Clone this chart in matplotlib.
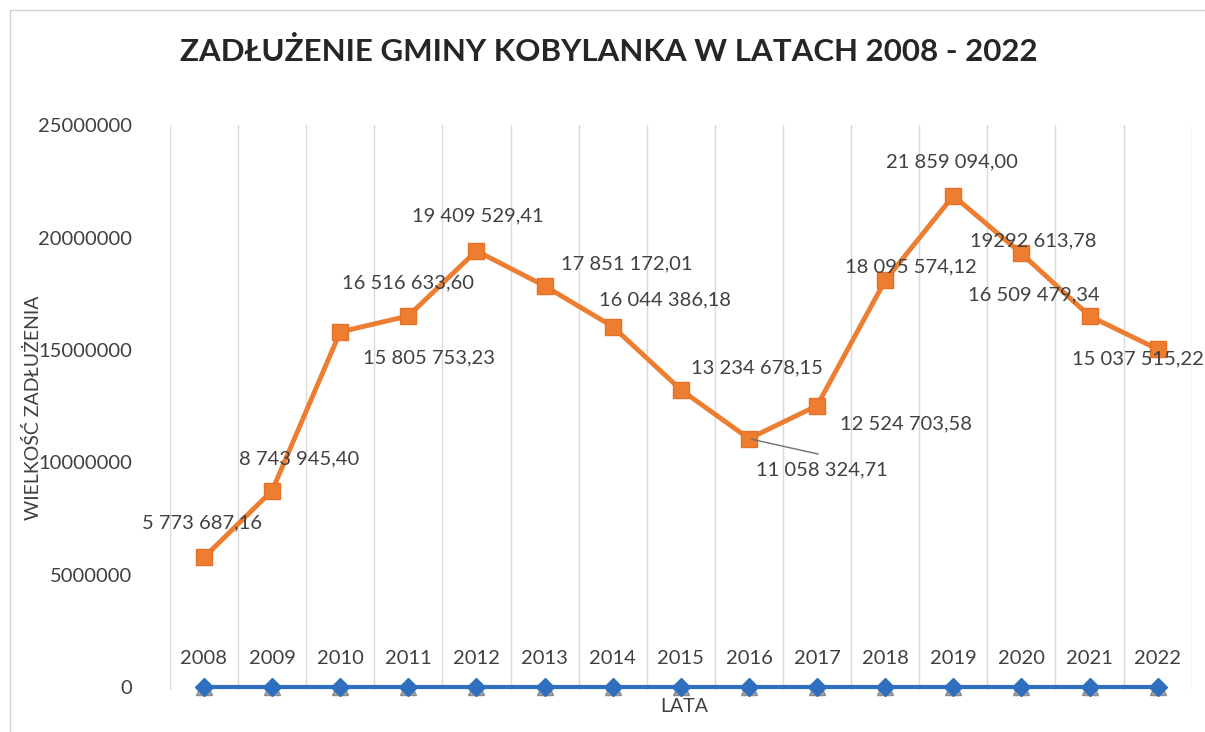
import numpy as np
import matplotlib
matplotlib.use("Agg")
from matplotlib import pyplot as plt
from matplotlib.patches import Rectangle

plt.rcParams['font.family'] = ['Lato', 'DejaVu Sans']

# data
years = ["2008", "2009", "2010", "2011", "2012", "2013", "2014", "2015",
         "2016", "2017", "2018", "2019", "2020", "2021", "2022"]
debt = [5773687.16, 8743945.40, 15805753.23, 16516633.60, 19409529.41,
        17851172.01, 16044386.18, 13234678.15, 11058324.71, 12524703.58,
        18095574.12, 21859094.00, 19292613.78, 16509479.34, 15037515.22]
debt_labels = ["5 773 687,16", "8 743 945,40", "15 805 753,23", "16 516 633,60",
               "19 409 529,41", "17 851 172,01", "16 044 386,18", "13 234 678,15",
               "11 058 324,71", "12 524 703,58", "18 095 574,12", "21 859 094,00",
               "19292 613,78", "16 509 479,34", "15 037 515,22"]
# the years themselves were plotted as a series too (lie at ~0 on this scale)
year_series = [2008, 2009, 2010, 2011, 2012, 2013, 2014, 2015,
               2016, 2017, 2018, 2019, 2020, 2021, 2022]
zero_series = [0] * 15

# label offsets in pixels (dx, dy)
offsets = [(-2, 35), (27, 32), (89, -26), (0, 33), (1, 35), (82, 22), (52, 27),
           (76, 22), (73, -31), (89, -18), (26, 14), (-1, 34), (12, 13),
           (-56, 21), (-20, -10)]

txt = "#404040"
x = np.arange(len(years))

fig = plt.figure(figsize=(12.05, 7.32), dpi=100)
ax = fig.add_axes([0.141, 0.057, 0.848, 0.772])

# chart border
fig.patches.append(Rectangle((0.008, -0.05), 1.1, 1.036, transform=fig.transFigure,
                             fill=False, edgecolor="#d0d0d0", linewidth=1.0))

# grey triangles peek out just under the blue diamonds
ax.plot(x, zero_series, marker="^", color="#a5a5a5", linewidth=0, markersize=12,
        markeredgecolor="#8c8c8c", zorder=3, clip_on=False)
ax.plot(x, year_series, marker="D", color="#2e6fc0", linewidth=3, markersize=9,
        zorder=4, clip_on=False)
ax.plot(x, debt, marker="s", color="#ed7d31", linewidth=3.5, markersize=11,
        markeredgecolor="#e87025", zorder=5)

for i in range(len(x)):
    dx, dy = offsets[i]
    ax.annotate(debt_labels[i], (x[i], debt[i]), xytext=(dx, dy),
                textcoords="offset pixels", ha="center", va="center",
                fontsize=14.5, color=txt, zorder=6)

# leader line for 2016 label
ax.annotate("", (x[8], debt[8]), xytext=(72, -16), textcoords="offset pixels",
            arrowprops=dict(arrowstyle="-", color="#707070", lw=1), zorder=6)

# category labels sit above the zero line
for i in range(len(x)):
    ax.text(x[i], 0.057, years[i], transform=ax.get_xaxis_transform(),
            ha="center", va="center", fontsize=14.5, color=txt)

ax.set_xlim(-0.5, 14.5)
ax.set_ylim(-133000, 25000000)
ax.set_yticks([0, 5000000, 10000000, 15000000, 20000000, 25000000])
ax.set_yticklabels(["0", "5000000", "10000000", "15000000", "20000000", "25000000"])
ax.set_xticks(x)
ax.set_xticklabels([])
ax.set_xticks(np.arange(-0.5, 15, 1), minor=True)
ax.grid(True, which="minor", axis="x", color="#d9d9d9", linewidth=1)
ax.tick_params(axis="both", which="both", length=0)
ax.tick_params(axis="y", labelsize=14.5, labelcolor=txt, pad=27)
for s in ax.spines.values():
    s.set_visible(False)

ax.set_ylabel("WIELKOŚĆ ZADŁUŻENIA", fontsize=14, color=txt)
ax.yaxis.set_label_coords(-0.125, 0.5)
fig.text(0.568, 0.035, "LATA", ha="center", va="center", fontsize=14, color=txt)
fig.text(0.505, 0.93, "ZADŁUŻENIE GMINY KOBYLANKA W LATACH 2008 - 2022",
         ha="center", va="center", fontsize=22.5, fontweight="bold", color="#262626")

fig.savefig("out.png", dpi=100)
